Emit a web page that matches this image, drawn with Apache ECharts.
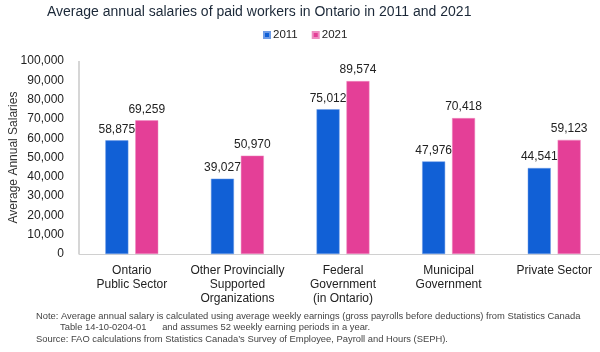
<!DOCTYPE html>
<html>
<head>
<meta charset="utf-8">
<script src="https://cdn.jsdelivr.net/npm/echarts@6/dist/echarts.min.js"></script>
<style>
  html, body { margin: 0; padding: 0; background: #fff; }
  #chart { width: 600px; height: 352px; }
</style>
</head>
<body>
<div id="chart"></div>
<script>
var categories = [
  'Ontario\nPublic Sector',
  'Other Provincially\nSupported\nOrganizations',
  'Federal\nGovernment\n(in Ontario)',
  'Municipal\nGovernment',
  'Private Sector'
];
var salaries2011 = [58875, 39027, 75012, 47976, 44541];
var salaries2021 = [69259, 50970, 89574, 70418, 59123];
var yTicks = { min: 0, max: 100000, interval: 10000 };

var chart = echarts.init(document.getElementById('chart'));

var labelStyle = {
  show: true,
  position: 'top',
  distance: 5,
  color: '#222',
  fontSize: 12,
  fontFamily: 'Liberation Sans, Arial, sans-serif',
  formatter: function (p) { return p.value.toLocaleString('en-US'); }
};

var noteFont = { fontSize: 9.4, fill: '#444', fontFamily: 'Liberation Sans, Arial, sans-serif' };

var option = {
  animation: false,
  textStyle: { fontFamily: 'Liberation Sans, Arial, sans-serif' },
  title: {
    text: 'Average annual salaries of paid workers in Ontario in 2011 and 2021',
    left: 42,
    top: 0,
    textStyle: { fontSize: 14, fontWeight: 'normal', color: '#1b2838' }
  },
  legend: {
    data: ['2011', '2021'],
    top: 24,
    left: 258,
    itemWidth: 6,
    itemHeight: 6,
    itemGap: 14,
    icon: 'rect',
    textStyle: { fontSize: 11.5, color: '#222', padding: [0, 0, 0, -2] }
  },
  grid: { left: 79, right: -7, top: 61, bottom: 98, outerBoundsMode: 'none' },
  xAxis: {
    type: 'category',
    data: categories,
    axisLine: { lineStyle: { color: '#d0d0d0' } },
    axisTick: { show: false },
    axisLabel: { color: '#222', fontSize: 12, lineHeight: 14, margin: 10, interval: 0 },
    splitLine: {
      show: true,
      interval: function (index) { return index === 2; },
      lineStyle: { color: '#c8c8c8', width: 1.5 }
    }
  },
  yAxis: {
    type: 'value',
    min: yTicks.min,
    max: yTicks.max,
    interval: yTicks.interval,
    name: 'Average Annual Salaries',
    nameLocation: 'middle',
    nameGap: 59,
    nameMoveOverlap: false,
    nameTextStyle: { fontSize: 12, color: '#333' },
    axisLine: { show: false },
    axisTick: { show: false },
    splitLine: { show: false },
    axisLabel: {
      color: '#222',
      fontSize: 12,
      margin: 15,
      formatter: function (v) { return v.toLocaleString('en-US'); }
    }
  },
  series: [
    {
      name: '2011',
      type: 'bar',
      data: salaries2011,
      barWidth: 23,
      barGap: '30%',
      itemStyle: { color: '#1160d6', borderColor: '#6d9be6', borderWidth: 0.5 },
      label: labelStyle
    },
    {
      name: '2021',
      type: 'bar',
      data: salaries2021,
      barWidth: 23,
      itemStyle: { color: '#e43f97', borderColor: '#ee8cc0', borderWidth: 0.5 },
      label: labelStyle
    }
  ],
  graphic: [
    {
      type: 'text', left: 36, top: 312,
      style: Object.assign({ text: 'Note: Average annual salary is calculated using average weekly earnings (gross payrolls before deductions) from Statistics Canada' }, noteFont)
    },
    {
      type: 'text', left: 60, top: 323,
      style: Object.assign({ text: 'Table 14-10-0204-01      and assumes 52 weekly earning periods in a year.' }, noteFont)
    },
    {
      type: 'text', left: 36, top: 335,
      style: Object.assign({ text: 'Source: FAO calculations from Statistics Canada\u2019s Survey of Employee, Payroll and Hours (SEPH).' }, noteFont)
    }
  ]
};

chart.setOption(option);
</script>
</body>
</html>
